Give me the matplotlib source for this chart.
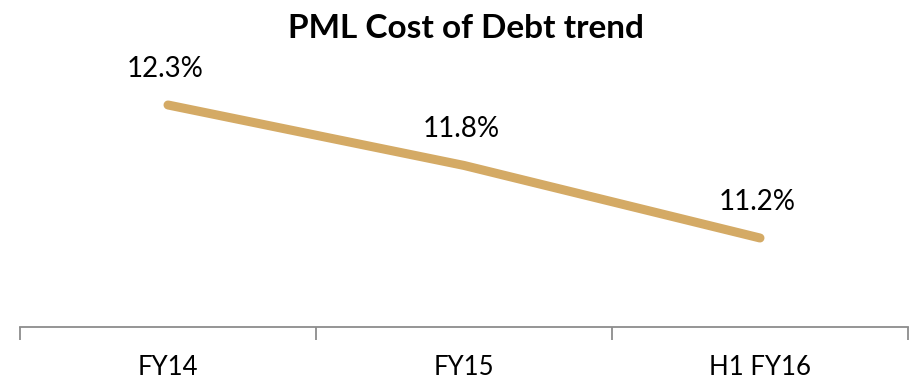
import matplotlib
matplotlib.use("Agg")
import matplotlib.pyplot as plt

categories = ["FY14", "FY15", "H1 FY16"]
cost_of_debt = [12.3, 11.8, 11.2]
value_labels = ["12.3%", "11.8%", "11.2%"]

plt.rcParams["font.family"] = ["Lato", "DejaVu Sans"]

W, H = 909, 383
fig = plt.figure(figsize=(W / 100, H / 100), dpi=100)
ax = fig.add_axes([20 / W, 56 / H, 888 / W, 267 / H])

x = list(range(len(categories)))
ax.plot(x, cost_of_debt, color="#D4AA65", linewidth=6.5, solid_capstyle="round",
        solid_joinstyle="round")

for xi, yi, lab in zip(x, cost_of_debt, value_labels):
    ax.annotate(lab, (xi, yi), xytext=(-2, 26), textcoords="offset points",
                ha="center", va="center", fontsize=20, color="#000000")

ax.set_xlim(-0.5, len(categories) - 0.5)
ax.set_ylim(10.464, 12.672)

for side in ["top", "right", "left"]:
    ax.spines[side].set_visible(False)
ax.spines["bottom"].set_color("#8c8c8c")
ax.spines["bottom"].set_linewidth(1.3)

ax.set_yticks([])
ax.set_xticks([-0.5, 0.5, 1.5, 2.5])
ax.set_xticklabels([])
ax.set_xticks(x, minor=True)
ax.set_xticklabels(categories, minor=True, fontsize=18.5)
ax.tick_params(axis="x", which="major", length=9, width=1.3, color="#8c8c8c",
               direction="out")
ax.tick_params(axis="x", which="minor", length=0, pad=20)

fig.text(466 / W, 1 - 28 / H, "PML Cost of Debt trend", ha="center", va="center",
         fontsize=24, fontweight="bold")

fig.savefig("out.png", dpi=100)
